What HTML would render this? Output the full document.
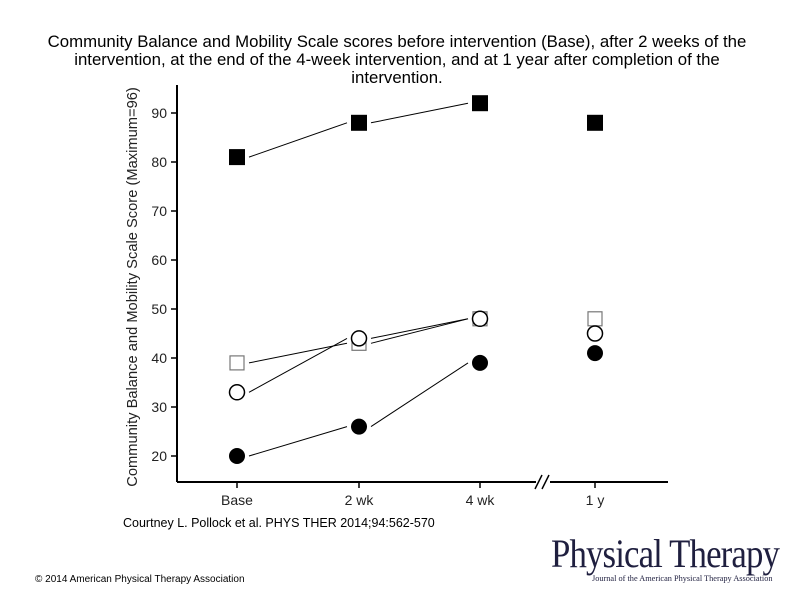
<!DOCTYPE html>
<html><head><meta charset="utf-8"><style>
body{margin:0;width:794px;height:595px;background:#fff;font-family:"Liberation Sans",sans-serif;overflow:hidden;position:relative}
.t{position:absolute;left:0;width:794px;top:33px;text-align:center;font-size:16.8px;line-height:18px;color:#000}
</style></head><body>
<div class="t">Community Balance and Mobility Scale scores before intervention (Base), after 2 weeks of the<br>intervention, at the end of the 4-week intervention, and at 1 year after completion of the<br>intervention.</div>
<svg id="c" width="794" height="595" style="position:absolute;left:0;top:0"></svg>
<div style="position:absolute;left:123px;top:516px;font-size:12.5px">Courtney L. Pollock et al. PHYS THER 2014;94:562-570</div>
<div style="position:absolute;left:35px;top:574px;font-size:10px">© 2014 American Physical Therapy Association</div>
<div style="position:absolute;left:551px;top:532px;font-family:'Liberation Serif',serif;font-size:40px;line-height:44px;white-space:nowrap;color:#1f1f3f;letter-spacing:-1px;transform:scaleX(0.87);transform-origin:left">Physical Therapy</div>
<div style="position:absolute;left:592px;top:574px;font-family:'Liberation Serif',serif;font-size:8.3px;white-space:nowrap;color:#1f1f3f">Journal of the American Physical Therapy Association</div>
<script>
const categories=["Base","2 wk","4 wk","1 y"];
const filledSquare=[81,88,92,88];
const openSquare=[39,43,48,48];
const openCircle=[33,44,48,45];
const filledCircle=[20,26,39,41];
const yTicks=[20,30,40,50,60,70,80,90];
const svg=document.getElementById('c');const NS='http://www.w3.org/2000/svg';
const xPos=[237,359,480,595];
function X(i){return xPos[i];}
function Y(v){return 456-(v-20)*4.9;}
function el(t,a,p){const e=document.createElementNS(NS,t);for(const k in a)e.setAttribute(k,a[k]);(p||svg).appendChild(e);return e;}
let e;
e=el('line',{x1:177,y1:85,x2:177,y2:482,stroke:'#000','stroke-width':2});


e=el('line',{x1:177,y1:482,x2:668,y2:482,stroke:'#000','stroke-width':2});


e=el('rect',{x:536,y:476,width:14,height:12,fill:'#fff'});


el('line',{x1:535,y1:489,x2:542,y2:475,stroke:'#000','stroke-width':1.5});
el('line',{x1:542,y1:489,x2:549,y2:475,stroke:'#000','stroke-width':1.5});
yTicks.forEach(v=>{
 el('line',{x1:171,y1:Y(v),x2:177,y2:Y(v),stroke:'#000','stroke-width':1.5});
 const t=el('text',{x:167,y:Y(v)+5,'text-anchor':'end','font-size':14,fill:'#222'});t.textContent=v;
 
 
});
categories.forEach((c,i)=>{
 el('line',{x1:X(i),y1:482,x2:X(i),y2:488,stroke:'#000','stroke-width':1.5});
 const t=el('text',{x:X(i),y:505,'text-anchor':'middle','font-size':14,fill:'#222'});t.textContent=c;
 
 
});
const yl=el('text',{transform:'translate(137,287) rotate(-90)','text-anchor':'middle','font-size':14.7,fill:'#222'});
yl.textContent='Community Balance and Mobility Scale Score (Maximum=96)';


function series(vals,type,name){
 for(let i=0;i<2;i++){el('line',{x1:X(i)+12,y1:Y(vals[i]),x2:X(i+1)-12,y2:Y(vals[i+1]),stroke:'#000','stroke-width':1});}
 vals.forEach((v,i)=>{
  let m;
  if(type=='fs')m=el('rect',{x:X(i)-8,y:Y(v)-8,width:16,height:16,fill:'#000'});
  if(type=='os')m=el('rect',{x:X(i)-7,y:Y(v)-7,width:14,height:14,fill:'#fff',stroke:'#777','stroke-width':1.2});
  if(type=='oc')m=el('circle',{cx:X(i),cy:Y(v),r:7.5,fill:'#fff',stroke:'#000','stroke-width':1.5});
  if(type=='fc')m=el('circle',{cx:X(i),cy:Y(v),r:8,fill:'#000'});
  
  
 });
}
series(filledSquare,'fs','filled-square');
series(openSquare,'os','open-square');
series(openCircle,'oc','open-circle');
series(filledCircle,'fc','filled-circle');
</script>
</body></html>
